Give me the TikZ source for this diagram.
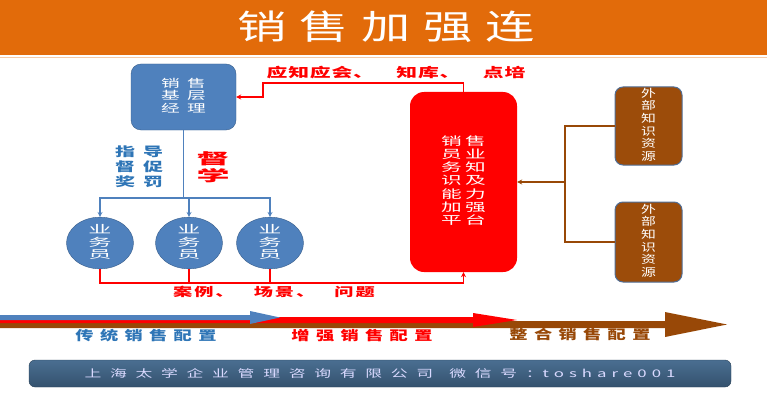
\documentclass[tikz,border=0pt]{standalone}
\usepackage{fontspec}
\setmainfont{Noto Sans CJK SC}
\usepackage{graphicx}
\usetikzlibrary{arrows.meta,shapes.geometric}

\definecolor{titleorange}{RGB}{226,107,10}
\definecolor{boxblue}{RGB}{79,129,189}
\definecolor{boxblueline}{RGB}{56,93,138}
\definecolor{labelblue}{RGB}{46,117,182}
\definecolor{pptred}{RGB}{255,0,0}
\definecolor{pptbrown}{RGB}{152,72,7}
\definecolor{extbrown}{RGB}{156,76,10}
\definecolor{extline}{RGB}{80,110,150}
\definecolor{foottop}{RGB}{74,110,145}
\definecolor{footbot}{RGB}{52,82,110}

\newcommand\xstretch[2]{\scalebox{#1}[1]{#2}}
\newcommand\colstack[1]{\begin{tabular}{@{}c@{}}#1\end{tabular}}
\newcommand\fsz[3]{\fontsize{#1}{#2}\selectfont\addfontfeature{LetterSpace=#3}}

\begin{document}
\begin{tikzpicture}[x=1pt,y=-1pt,
  mgrbox/.style={draw=boxblueline, fill=boxblue, rounded corners=10pt, minimum width=105pt, minimum height=66pt, inner sep=0pt, text=white, font=\fsz{11}{11}{39}},
  staff/.style={ellipse, draw=boxblueline, fill=boxblue, minimum width=67pt, minimum height=46pt, inner sep=0pt, text=white, font=\fsz{11}{10.5}{0}},
  platbox/.style={fill=pptred, rounded corners=14pt, minimum width=107pt, minimum height=180pt, inner sep=0pt, text=white, font=\fsz{11.5}{12}{16}},
  extbox/.style={draw=extline, line width=1pt, fill=extbrown, rounded corners=8pt, minimum width=67pt, minimum height=78pt, inner sep=0pt, text=white, font=\fsz{11}{11.7}{0}},
  blueline/.style={draw=boxblue, line width=1.8pt},
  redline/.style={draw=pptred, line width=1.8pt},
  brownline/.style={draw=pptbrown, line width=1.5pt},
  tip/.style={-{Stealth[length=5pt,width=5pt]}},
  stagelabel/.style={font=\bfseries\fsz{13}{13}{35}}]
  \useasboundingbox (0,0) rectangle (767,393);

  % title bar
  \fill[titleorange] (0,0) rectangle (767,55);
  \draw[titleorange!35, line width=1pt] (0,57.5) -- (767,57.5);
  \node[text=white, font=\fsz{34}{34}{26}] (title) at (386,27) {\xstretch{1.45}{销售加强连}};

  % boxes
  \node[mgrbox] (mgr) at (183.5,97) {\xstretch{1.7}{\colstack{销售\\基层\\经理}}};
  \foreach \n/\x in {1/100,2/189,3/270}
    \node[staff] (c\n) at (\x,243) {\xstretch{2.1}{\colstack{业\\务\\员}}};
  \node[platbox] (plat) at (463.5,182) {\xstretch{1.8}{\colstack{销售\\员业\\务知\\识及\\能力\\加强\\平台}}};
  \node[extbox] (ext1) at (648.5,126) {\xstretch{1.35}{\colstack{外\\部\\知\\识\\资\\源}}};
  \node[extbox, minimum height=80pt] (ext2) at (648.5,242) {\xstretch{1.35}{\colstack{外\\部\\知\\识\\资\\源}}};

  % manager to staff
  \coordinate (split) at (183.5,198);
  \draw[blueline] (mgr.south) -- (split);
  \foreach \n in {1,2,3}
    \draw[blueline, tip] (split) -| (c\n.north);
  \node[text=labelblue, font=\bfseries\fsz{12.5}{13}{40}] (guide) at (139,168) {\xstretch{1.6}{\colstack{指导\\督促\\奖罚}}};
  \node[text=pptred, font=\bfseries\fsz{15}{13.5}{0}] (study) at (213,169) {\xstretch{2.2}{\colstack{督\\学}}};

  % platform feedback loops
  \coordinate (fb) at (263,83);
  \draw[redline, tip] (plat.north) |- (fb) |- (mgr.east);
  \node[text=pptred, font=\bfseries\fsz{13}{13}{4}] (know) at (396,73) {\xstretch{1.6}{应知应会、\hspace{14pt}知库、\hspace{14pt}点培}};
  \coordinate (cb) at (463.5,283);
  \draw[redline] (c1.south) |- (cb);
  \draw[redline] (c2.south) -- (c2.south |- cb);
  \draw[redline] (c3.south) -- (c3.south |- cb);
  \draw[redline, tip] (cb) -- (plat.south);
  \node[text=pptred, font=\bfseries\fsz{12}{12}{10}] (cases) at (274,292) {\xstretch{1.6}{案例、\hspace{12pt}场景、\hspace{12pt}问题}};

  % external sources
  \coordinate (eb) at (565,182);
  \draw[brownline] (ext1.west) -| (eb) |- (ext2.west);
  \draw[brownline, tip] (eb) -- (plat.east);

  % stage arrows
  \fill[pptbrown] (0,321) -- (665,321) -- (665,312) -- (727,324.5) -- (665,337) -- (665,328) -- (0,328) -- cycle;
  \fill[pptred] (0,317) -- (473,317) -- (473,313) -- (517,320) -- (473,327) -- (473,323) -- (0,323) -- cycle;
  \fill[boxblue] (0,315) -- (250,315) -- (250,311) -- (280,317.5) -- (250,324) -- (250,320) -- (0,320) -- cycle;
  \node[stagelabel, text=labelblue] (s1) at (146,336) {\xstretch{1.4}{传统销售配置}};
  \node[stagelabel, text=pptred] (s2) at (362,336) {\xstretch{1.4}{增强销售配置}};
  \node[stagelabel, text=pptbrown] (s3) at (580,335) {\xstretch{1.4}{整合销售配置}};

  % footer
  \node[draw=footbot!80!black, top color=foottop, bottom color=footbot, rounded corners=6pt, minimum width=702pt, minimum height=27pt, text=white!85!blue, font=\fsz{10.5}{10.5}{52}] (foot) at (380,373.5) {\xstretch{1.6}{上海太学企业管理咨询有限公司\hspace{10pt}微信号：{\addfontfeature{LetterSpace=30}toshare001}}};
\end{tikzpicture}
\end{document}
